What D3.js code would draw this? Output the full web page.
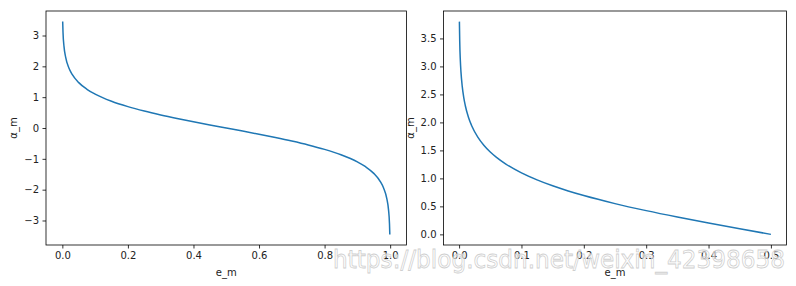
<!DOCTYPE html>
<html>
<head>
<meta charset="utf-8">
<script src="https://cdn.jsdelivr.net/npm/d3@7"></script>
<style>
  body { margin: 0; background: #fff; }
  svg text { font-family: "DejaVu Sans", sans-serif; }
</style>
</head>
<body>
<svg id="chart" width="796" height="286"></svg>
<script>
// values: e_m and alpha_m
const leftE = [0.001, 0.002, 0.005, 0.01, 0.02, 0.03, 0.05, 0.075, 0.1, 0.15, 0.2, 0.25, 0.3, 0.35, 0.4, 0.45, 0.5,
               0.55, 0.6, 0.65, 0.7, 0.75, 0.8, 0.85, 0.9, 0.925, 0.95, 0.97, 0.98, 0.99, 0.995, 0.998, 0.999];
const leftAlpha = [3.453, 3.106, 2.647, 2.298, 1.946, 1.738, 1.472, 1.256, 1.099, 0.867, 0.693, 0.549, 0.424, 0.310, 0.203, 0.100, 0.000,
                   -0.100, -0.203, -0.310, -0.424, -0.549, -0.693, -0.867, -1.099, -1.256, -1.472, -1.738, -1.946, -2.298, -2.647, -3.106, -3.453];

const rightE = [0.0005, 0.001, 0.002, 0.003, 0.005, 0.0075, 0.01, 0.015, 0.02, 0.03, 0.04, 0.05, 0.06, 0.075,
                0.1, 0.125, 0.15, 0.175, 0.2, 0.25, 0.3, 0.35, 0.4, 0.45, 0.5];
const rightAlpha = [3.800, 3.453, 3.106, 2.903, 2.647, 2.443, 2.298, 2.092, 1.946, 1.738, 1.589, 1.472, 1.376, 1.256,
                    1.099, 0.973, 0.867, 0.775, 0.693, 0.549, 0.424, 0.310, 0.203, 0.100, 0.000];

const leftXTicks = [0, 0.2, 0.4, 0.6, 0.8, 1.0];
const leftYTicks = [-3, -2, -1, 0, 1, 2, 3];
const rightXTicks = [0, 0.1, 0.2, 0.3, 0.4, 0.5];
const rightYTicks = [0, 0.5, 1, 1.5, 2, 2.5, 3, 3.5];

const svg = d3.select('#chart');

function panel(opts) {
    const x = d3.scaleLinear().domain(opts.xDomain).range([opts.left, opts.right]);
    const y = d3.scaleLinear().domain(opts.yDomain).range([opts.bottom, opts.top]);
    const g = svg.append('g');

    g.append('path')
        .datum(d3.zip(opts.xs, opts.ys))
        .attr('fill', 'none')
        .attr('stroke', '#1f77b4')
        .attr('stroke-width', 1.5)
        .attr('d', d3.line().curve(d3.curveMonotoneX).x(d => x(d[0])).y(d => y(d[1])));

    const xAxis = g.append('g')
        .attr('transform', `translate(0,${opts.bottom})`)
        .call(d3.axisBottom(x).tickValues(opts.xTicks).tickFormat(opts.xFmt).tickSize(3.5).tickPadding(3.5));
    const yAxis = g.append('g')
        .attr('transform', `translate(${opts.left},0)`)
        .call(d3.axisLeft(y).tickValues(opts.yTicks).tickFormat(opts.yFmt).tickSize(3.5).tickPadding(3.5));
    [xAxis, yAxis].forEach(a => {
        a.select('.domain').remove();
        a.selectAll('line').attr('stroke', '#000').attr('stroke-width', 0.8);
        a.selectAll('text').attr('font-size', 10).attr('fill', '#222')
            .style('font-family', '"DejaVu Sans", sans-serif');
    });

    g.append('rect')
        .attr('x', opts.left).attr('y', opts.top)
        .attr('width', opts.right - opts.left).attr('height', opts.bottom - opts.top)
        .attr('fill', 'none').attr('stroke', '#000').attr('stroke-width', 0.8);

    g.append('text')
        .attr('x', (opts.left + opts.right) / 2).attr('y', opts.bottom + 31)
        .attr('text-anchor', 'middle').attr('font-size', 10).attr('fill', '#222')
        .text('e_m');
    g.append('text')
        .attr('transform', `translate(${opts.yLabelX},${(opts.top + opts.bottom) / 2}) rotate(-90)`)
        .attr('text-anchor', 'middle').attr('font-size', 10).attr('fill', '#222')
        .text('α_m');
}

panel({
    xs: leftE, ys: leftAlpha,
    xDomain: [-0.0499, 1.0499], yDomain: [-3.795, 3.795],
    left: 46, right: 406.5, top: 11, bottom: 245,
    xTicks: leftXTicks, yTicks: leftYTicks,
    xFmt: d3.format('.1f'), yFmt: d => d3.format('d')(d).replace('-', '\u2212'),
    yLabelX: 17
});

panel({
    xs: rightE, ys: rightAlpha,
    xDomain: [-0.025, 0.525], yDomain: [-0.19, 3.99],
    left: 443.5, right: 786.5, top: 11, bottom: 245,
    xTicks: rightXTicks, yTicks: rightYTicks,
    xFmt: d3.format('.1f'), yFmt: d3.format('.1f'),
    yLabelX: 414
});

// csdn watermark
svg.append('text')
    .attr('x', 333).attr('y', 268)
    .attr('font-family', '"Liberation Sans", Arial, sans-serif')
    .attr('font-size', 25)
    .attr('textLength', 452)
    .attr('lengthAdjust', 'spacingAndGlyphs')
    .attr('fill', 'rgba(255,255,255,0.55)')
    .attr('stroke', '#cfcfcf').attr('stroke-width', 0.8)
    .text('https://blog.csdn.net/weixin_42398658');
</script>
</body>
</html>
